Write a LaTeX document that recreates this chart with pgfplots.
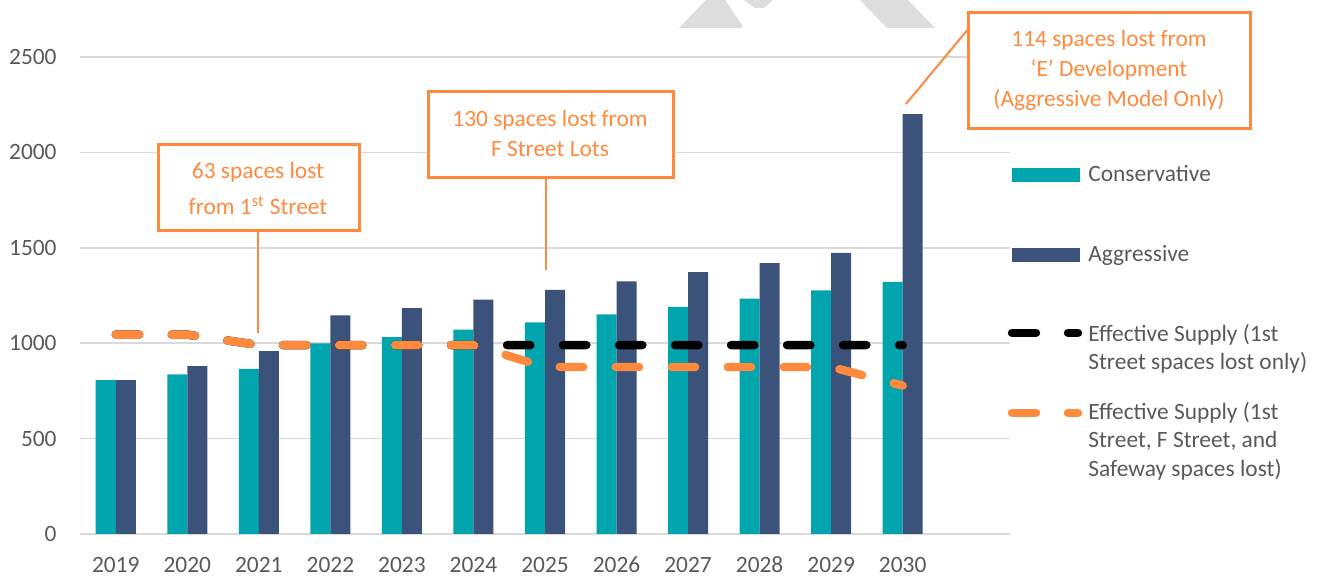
\documentclass[border=0pt]{standalone}
\usepackage{fontspec}
\setmainfont{Carlito}[Numbers=Lining]
\usepackage{pgfplots}
\pgfplotsset{compat=1.18}

\definecolor{teal1}{HTML}{00A5AE}
\definecolor{navy1}{HTML}{3B537A}
\definecolor{orng}{HTML}{FF8A3D}
\definecolor{txtgray}{HTML}{595959}
\definecolor{gridgray}{HTML}{D9D9D9}
\definecolor{wm}{HTML}{DDDDDD}

\newcommand{\fs}{\fontsize{11.7}{14}\selectfont}

\begin{document}
\begin{tikzpicture}
\begin{axis}[
    at={(0,0)}, anchor=south west,
    scale only axis, width=465pt, height=238.5pt,
    xmin=-0.5, xmax=12.5, ymin=0, ymax=2500,
    xtick={0,...,11},
    xticklabels={2019,2020,2021,2022,2023,2024,2025,2026,2027,2028,2029,2030},
    ytick={0,500,...,2500},
    ymajorgrids, grid style={gridgray, line width=0.75pt},
    axis line style={draw=none},
    major tick length=0pt,
    tick label style={font=\fs, text=txtgray},
    /pgf/number format/assume math mode=true,
    /pgf/number format/1000 sep={},
    yticklabel style={anchor=east, inner sep=0pt, xshift=-11.5pt},
    xticklabel style={anchor=base, inner sep=0pt, yshift=-19.5pt},
    clip=false,
]
% Conservative
\addplot[ybar, bar width=0.28, bar shift=-0.14, fill=teal1, draw=none] coordinates {
  (0,807) (1,837) (2,866) (3,999) (4,1032) (5,1071)
  (6,1109) (7,1151) (8,1190) (9,1233) (10,1277) (11,1322)};
% Aggressive
\addplot[ybar, bar width=0.28, bar shift=0.14, fill=navy1, draw=none] coordinates {
  (0,807) (1,880) (2,959) (3,1146) (4,1184) (5,1228)
  (6,1279) (7,1324) (8,1373) (9,1420) (10,1473) (11,2201)};
% Effective supply, 1st Street only
\addplot[black, line width=4.2pt, line cap=round, line join=round,
  dash pattern=on 11.7pt off 16.3pt, mark=none] coordinates {
  (0,1045) (1,1045) (2,990) (3,990) (4,990) (5,990)
  (6,990) (7,990) (8,990) (9,990) (10,990) (11,990)};
% Effective supply, 1st + F Street + Safeway
\addplot[orng, line width=4.2pt, line cap=round, line join=round,
  dash pattern=on 11.7pt off 16.3pt, mark=none] coordinates {
  (0,1045) (1,1045) (2,990) (3,990) (4,990) (5,990)
  (6,875) (7,875) (8,875) (9,875) (10,875) (11,778)};
\end{axis}

% annotations, legend and watermark in image pixel units
\begin{scope}[x=0.5pt, y=-0.5pt, shift={(-40pt,267pt)}]
  % watermark pieces
  \fill[wm] (679,28) -- (706,0) -- (725,0) -- (742,25) -- (742,28) -- cycle;
  \fill[wm] (744,0) -- (773,0) -- (764,8) -- (755,8) -- cycle;
  \fill[wm] (860,0) -- (908,0) -- (935,28) -- (887,28) -- cycle;

  % callouts
  \draw[orng, line width=1pt] (258,231) -- (258,333);
  \draw[orng, line width=1.5pt, fill=white] (158,145) rectangle (359,231);
  \node[anchor=base, text=orng, font=\fs, inner sep=0pt] at (258,179) {63 spaces lost};
  \node[anchor=base, text=orng, font=\fs, inner sep=0pt] at (258,215) {from 1\textsuperscript{st} Street};

  \draw[orng, line width=1pt] (546,178) -- (546,270);
  \draw[orng, line width=1.5pt, fill=white] (428,92) rectangle (673,178);
  \node[anchor=base, text=orng, font=\fs, inner sep=0pt] at (550,127) {130 spaces lost from};
  \node[anchor=base, text=orng, font=\fs, inner sep=0pt] at (550,157) {F Street Lots};

  \draw[orng, line width=1pt] (969,28) -- (906,104);
  \draw[orng, line width=1.5pt, fill=white] (968,13) rectangle (1250,129);
  \node[anchor=base, text=orng, font=\fs, inner sep=0pt] at (1109,47) {114 spaces lost from};
  \node[anchor=base, text=orng, font=\fs, inner sep=0pt] at (1109,77) {‘E’ Development};
  \node[anchor=base, text=orng, font=\fs, inner sep=0pt] at (1109,107) {(Aggressive Model Only)};

  % legend
  \fill[teal1] (1012,168) rectangle (1080,182);
  \node[anchor=base west, text=txtgray, font=\fs, inner sep=0pt] at (1088,182) {Conservative};
  \fill[navy1] (1012,248) rectangle (1080,262);
  \node[anchor=base west, text=txtgray, font=\fs, inner sep=0pt] at (1088,262) {Aggressive};

  \draw[black, line width=4.2pt, line cap=round] (1012,333) -- (1036,333) (1068,333) -- (1078,333);
  \node[anchor=base west, text=txtgray, font=\fs, inner sep=0pt] at (1088,342) {Effective Supply (1st};
  \node[anchor=base west, text=txtgray, font=\fs, inner sep=0pt] at (1088,370) {Street spaces lost only)};

  \draw[orng, line width=4.2pt, line cap=round] (1012,413) -- (1036,413) (1068,413) -- (1078,413);
  \node[anchor=base west, text=txtgray, font=\fs, inner sep=0pt] at (1088,420) {Effective Supply (1st};
  \node[anchor=base west, text=txtgray, font=\fs, inner sep=0pt] at (1088,448) {Street, F Street, and};
  \node[anchor=base west, text=txtgray, font=\fs, inner sep=0pt] at (1088,477) {Safeway spaces lost)};

  \pgfresetboundingbox
  \path[use as bounding box] (0,0) rectangle (1319,576);
\end{scope}
\end{tikzpicture}
\end{document}
